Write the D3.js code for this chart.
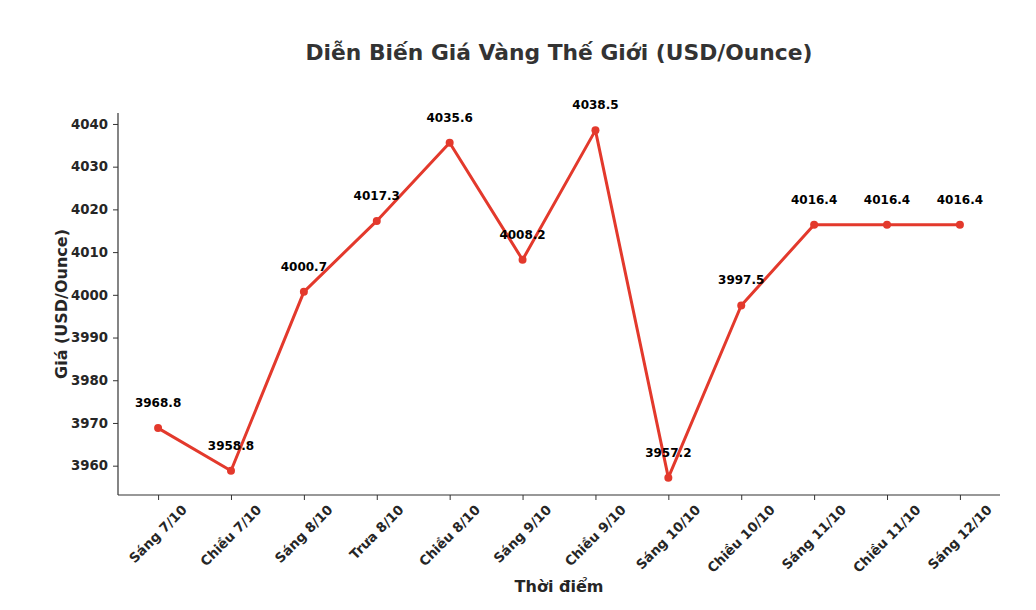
<!DOCTYPE html>
<html><head><meta charset="utf-8">
<script src="https://cdn.jsdelivr.net/npm/d3@7"></script>
<style>
body{margin:0;background:#fff;}
text{font-family:"DejaVu Sans",sans-serif;font-weight:bold;}
</style></head>
<body><svg id="c" width="1036" height="610"></svg>
<script>
const categories = ["Sáng 7/10","Chiều 7/10","Sáng 8/10","Trưa 8/10","Chiều 8/10","Sáng 9/10","Chiều 9/10","Sáng 10/10","Chiều 10/10","Sáng 11/10","Chiều 11/10","Sáng 12/10"];
const prices = [3968.8,3958.8,4000.7,4017.3,4035.6,4008.2,4038.5,3957.2,3997.5,4016.4,4016.4,4016.4];
const yTicks = [3960,3970,3980,3990,4000,4010,4020,4030,4040];
const titleText = "Diễn Biến Giá Vàng Thế Giới (USD/Ounce)";
const xLabel = "Thời điểm";
const yLabel = "Giá (USD/Ounce)";

const svg = d3.select("#c");
const L=118,R=1000,T=113,B=495;
const n = categories.length;
const x = d3.scaleLinear().domain([-0.55, n-1+0.55]).range([L,R]);
const mn=d3.min(prices), mx=d3.max(prices), pad=(mx-mn)*0.05;
const y = d3.scaleLinear().domain([mn-pad, mx+pad]).range([B,T]);
const ink="#262626";

// axes
const ya = svg.append("g").attr("transform",`translate(${L},0)`)
  .call(d3.axisLeft(y).tickValues(yTicks).tickFormat(d3.format("d")).tickSize(5).tickPadding(5));
const xa = svg.append("g").attr("transform",`translate(0,${B})`)
  .call(d3.axisBottom(x).tickValues(d3.range(n)).tickFormat(()=>"").tickSize(5));
[ya,xa].forEach(g=>{
  g.select(".domain").attr("stroke","#333").attr("stroke-width",1.2);
  g.selectAll(".tick line").attr("stroke","#333").attr("stroke-width",1);
});
ya.selectAll(".tick text").attr("font-size",13.3).attr("fill",ink).style("font-family","DejaVu Sans").style("font-weight","bold");
xa.select(".domain").attr("d",`M${L},0H${R}`);
ya.select(".domain").attr("d",`M0,${T}V${B}`);

// x tick labels rotated 45, centered on tick
const xl = svg.append("g");
categories.forEach((c,i)=>{
  const t = xl.append("text").text(c).attr("font-size",13.3).attr("fill",ink)
    .attr("text-anchor","middle").attr("dominant-baseline","central");
  const len = t.node().getComputedTextLength();
  const h = 13;
  const cy = B + 8 + (len/2)*Math.SQRT1_2 + (h/2)*Math.SQRT1_2;
  t.attr("transform",`translate(${x(i)},${cy}) rotate(-45)`);
});

// line
svg.append("path").datum(prices)
  .attr("fill","none").attr("stroke","#e3392c").attr("stroke-width",3).attr("stroke-linejoin","round")
  .attr("d",d3.line().x((d,i)=>x(i)).y(d=>y(d)));
svg.append("g").selectAll("circle").data(prices).join("circle")
  .attr("cx",(d,i)=>x(i)).attr("cy",d=>y(d)).attr("r",4).attr("fill","#e3392c");

// data labels
svg.append("g").selectAll("text").data(prices).join("text")
  .attr("x",(d,i)=>x(i)).attr("y",d=>y(d)-21)
  .attr("text-anchor","middle").attr("font-size",12).attr("fill","#000")
  .text(d=>d.toFixed(1));

// title & labels
svg.append("text").attr("x",(L+R)/2).attr("y",60).attr("text-anchor","middle")
  .attr("font-size",21.8).attr("fill","#333").text(titleText);
svg.append("text").attr("x",(L+R)/2).attr("y",592).attr("text-anchor","middle")
  .attr("font-size",16).attr("fill",ink).text(xLabel);
svg.append("text").attr("transform",`translate(67,${(T+B)/2}) rotate(-90)`).attr("text-anchor","middle")
  .attr("font-size",16).attr("fill",ink).text(yLabel);
</script></body></html>
